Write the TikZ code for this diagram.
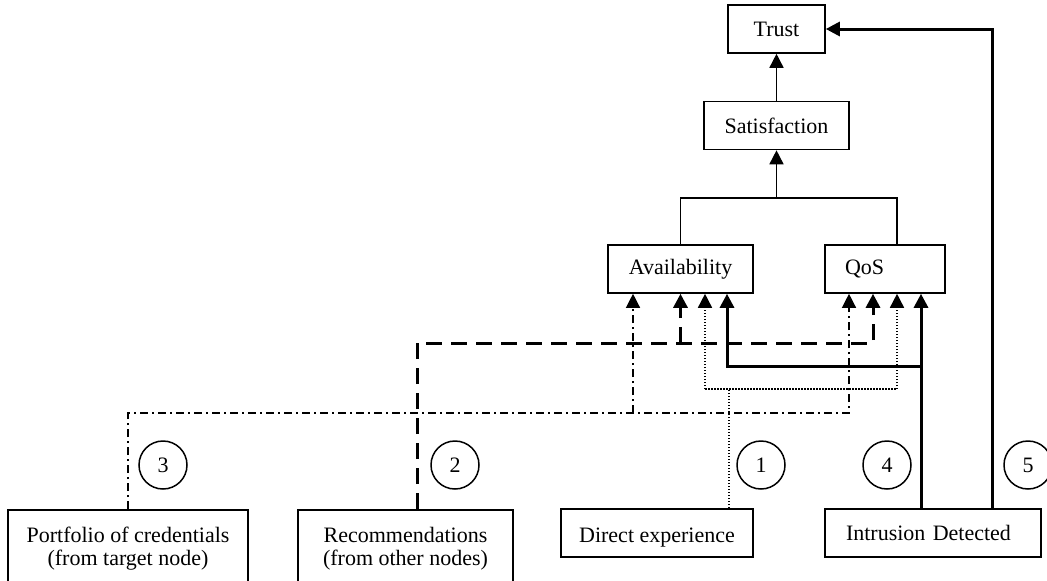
\documentclass[tikz,border=0pt]{standalone}
\usepackage{fontspec}
\setmainfont{Liberation Serif}
\usetikzlibrary{arrows.meta}
\tikzset{
	every node/.style = {font=\fontsize{22}{23}\selectfont},
	blk/.style = {draw, line width=1.6pt, inner sep=0pt, minimum height=48pt},
	num/.style = {draw, circle, line width=1.5pt, minimum size=48pt, inner sep=0pt},
	tip/.style = {-{Triangle[length=14pt, width=14pt]}},
	link/.style = {line width=1.6pt},
	path1/.style = {line width=1.6pt, dash pattern=on 1.5pt off 1.5pt},
	path2/.style = {line width=3pt, dash pattern=on 16pt off 9pt},
	path3/.style = {line width=1.3pt, dash pattern=on 8pt off 4pt on 2pt off 4pt},
	path4/.style = {line width=3pt, line join=miter}
}

\begin{document}
\begin{tikzpicture}[x=1pt, y=-1pt]
		\useasboundingbox (0,0) rectangle (1047,581);
		% hierarchy
		\node[blk, minimum width=97pt] (tr) at (776.5,29) {Trust};
		\node[blk, minimum width=145pt] (sat) at (776.5,125.5) {Satisfaction};
		\node[blk, minimum width=145pt] (avail) at (680.5,269) {Availability};
		\node[blk, inner xsep=20pt, text width=80pt, align=left] (qos) at (885,269) {QoS};
		\coordinate (fork) at (776.5,198);
		\draw[link, tip] (sat) -- (tr);
		\draw[link, tip] (fork) -- (sat);
		\draw[link] (avail.north) |- (fork) -| ([xshift=12pt]qos.north);
		% sources
		\node[blk, minimum width=240pt, anchor=north, inner ysep=17pt, text depth=60pt, align=center] (pf) at (128,509) {Portfolio of credentials\\(from target node)};
		\node[blk, minimum width=215pt, anchor=north, inner ysep=17pt, text depth=60pt, align=center] (rec) at (405.5,509) {Recommendations\\(from other nodes)};
		\node[blk, minimum width=192pt, text height=24pt] (dir) at (657,533) {Direct experience};
		\node[blk, inner xsep=21pt, text width=174pt, align=left] (intr) at (933,533) {Intrusion Detected};
		% numbers
		\node[num] (c3) at (163,465) {3};
		\node[num] (c2) at (455,465) {2};
		\node[num] (c1) at (761,465) {1};
		\node[num] (c4) at (887,465) {4};
		\node[num] (c5) at (1028,465) {5};
		% 3: portfolio
		\coordinate (r3) at (849,413);
		\coordinate (j3) at (633,413);
		\draw[path3, tip] (pf.north) |- (r3) -- (r3 |- qos.south);
		\draw[path3, tip] (j3) -- (j3 |- avail.south);
		% 2: recommendations
		\coordinate (r2) at (873,343);
		\coordinate (j2) at (680.5,343);
		\draw[path2, tip] ([xshift=11.5pt]rec.north) |- (r2) -- (r2 |- qos.south);
		\draw[path2, tip] (j2) -- (avail.south);
		% 1: direct experience
		\coordinate (j1) at (729,389);
		\coordinate (l1) at (705,389);
		\coordinate (r1) at (897,389);
		\draw[path1] ([xshift=72pt]dir.north) -- (j1);
		\draw[path1, tip] (l1) -- (l1 |- avail.south);
		\draw[path1, tip] (l1) -- (r1) -- (r1 |- qos.south);
		% 4: intrusion
		\coordinate (j4) at (921,366);
		\coordinate (l4) at (727,366);
		\draw[path4, tip] ([xshift=-12pt]intr.north) -- (j4 |- qos.south);
		\draw[path4, tip] (j4) -- (l4) -- (l4 |- avail.south);
		% 5: intrusion to trust
		\draw[path4, tip] ([xshift=59pt]intr.north) |- (tr.east);
	\end{tikzpicture}
\end{document}
